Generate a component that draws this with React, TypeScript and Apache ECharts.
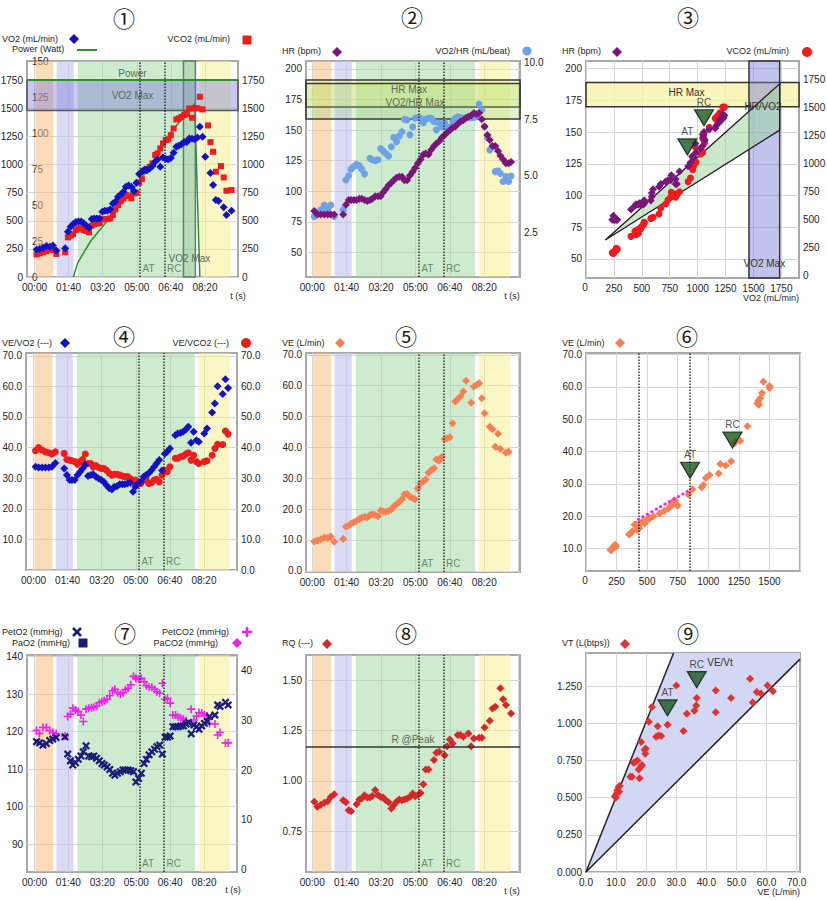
import React, { useEffect, useRef } from 'react';
import * as echarts from 'echarts';

// ---------------- data ----------------
// sample times (s), shared by all time-based panels
const T = [6,15,25,35,45,54,64,90,98,106,113,121,129,137,144,152,160,168,175,183,191,199,206,214,222,230,237,245,253,261,268,276,284,292,299,307,315,323,330,338,346,354,361,369,377,385,392,400,408,416,423,431,439,447,454,462,470,478,485,493,501,509,516,524,532,540,547,555,563,571,578];

const VO2 = [245,250,260,275,270,280,235,255,403,447,
  470,489,494,494,477,456,438,515,521,521,
  521,580,589,589,601,654,669,714,734,758,
  802,814,802,764,838,915,936,956,950,965,
  986,1027,1045,980,1063,1051,1045,1057,1104,1158,
  1167,1181,1199,1199,1232,1229,1225,1240,1335,1246,
  1069,null,925,817,684,675,null,620,551,null,
  589];

const VCO2 = [200,210,220,230,245,240,205,220,352,367,
  380,417,435,430,417,409,397,456,470,475,
  480,512,515,515,521,551,601,640,675,699,
  728,720,699,743,749,838,870,945,960,980,
  1010,1084,1098,1143,1187,1217,1223,1261,1320,1400,
  1410,1424,1439,1450,1498,1415,1500,1500,1602,1490,
  null,1347,1199,1113,936,null,986,885,767,null,
  773];

const HR = [84,81,81,81,81,81,81,81,89,93,
  93,93,93,94,94,93,92,93,94,96,
  96,96,99,102,105,107,109,111,112,112,
  109,109,113,116,119,123,126,130,131,130,
  134,137,139,141,144,146,148,150,152,153,
  155,157,158,160,161,162,164,163,164,159,
  153,146,142,137,137,133,129,126,123,123,
  124];

const VO2HR = [3.2,3.3,3.5,3.7,3.5,3.7,3.2,3.5,4.81,5.0,
  5.28,5.4,5.5,5.44,5.28,5.08,null,5.77,5.7,5.66,
  5.7,6.2,6.1,5.98,5.87,6.28,6.69,6.5,6.75,6.94,
  7.49,7.46,6.8,7.16,7.53,7.57,7.53,7.34,7.49,7.53,
  7.53,7.38,7.02,7.31,7.16,7.34,7.16,7.12,7.38,7.53,
  7.6,7.57,7.53,7.57,7.57,7.57,7.57,7.6,8.16,7.9,
  7.16,6.69,6.13,6.28,5.18,5.22,5.1,4.74,4.96,4.74,
  4.99];

const VE = [9.5,9.8,10.2,10.8,10.6,11.1,9.4,10.3,14.3,14.7,
  15.3,15.7,16.2,16.8,17.2,17.5,17.3,18.1,18.3,18.1,
  17.7,19.5,19.3,19.1,19.4,19.9,20.8,21.6,22.4,23.2,
  24.8,24.9,24.0,23.5,23.2,26.7,28.3,28.9,29.6,31.8,
  32.7,33.2,36.1,35.7,37.0,42.6,43.0,43.3,47.8,54.9,
  55.7,56.5,58.1,61.6,null,54.5,59.7,60.3,60.8,55.9,
  51.1,null,46.7,45.9,40.2,44.4,39.5,null,38.3,38.6,
  null];

const VE_VO2 = [33.7,33.5,33.5,33.5,33.5,33.7,35.0,33.2,31.0,29.4,
  29.4,29.4,31.0,32.1,33.2,34.3,30.7,31.0,31.3,30.5,
  29.9,29.4,28.8,27.7,26.7,26.3,27.2,27.4,28.0,28.0,
  28.0,28.3,28.5,25.6,27.2,28.3,28.8,30.5,31.0,31.6,
  32.6,33.7,34.8,35.9,32.5,38.0,38.6,39.7,null,44.0,
  44.6,44.8,45.2,45.9,46.8,41.6,45.2,42.4,41.9,null,
  44.6,46.2,null,51.5,54.4,60.0,null,57.5,62.3,59.5,
  null];

const VE_VCO2 = [39.0,40.0,39.2,38.6,38.3,37.9,38.6,38.1,36.1,35.9,
  35.7,35.4,34.6,35.4,36.1,37.9,34.8,34.8,33.7,34.1,
  33.5,33.2,33.2,32.6,31.6,31.0,31.3,31.3,31.0,30.7,
  30.5,30.5,29.9,28.8,29.4,28.8,28.3,29.4,29.9,28.3,
  28.5,29.4,29.6,28.8,31.0,32.6,32.1,33.7,null,36.5,
  36.5,37.0,37.2,37.9,38.3,35.9,37.5,35.4,34.8,null,
  35.4,35.7,null,37.5,39.7,41.1,null,41.0,45.4,44.4,
  null];

const PETO2 = [117.3,117.0,116.4,116.8,117.6,118.0,118.4,118.6,114.0,112.2,
  111.1,111.7,112.6,113.5,114.6,116.2,113.5,113.3,113.5,112.9,
  112.2,111.5,111.1,110.6,109.9,108.9,108.4,108.9,109.3,109.8,
  109.8,109.8,109.6,109.3,106.6,107.5,108.9,111.5,112.6,113.8,
  114.6,115.3,116.0,116.4,114.0,118.5,118.5,118.8,121.3,121.3,
  121.3,121.5,121.5,122.0,122.4,119.4,121.8,121.3,120.6,121.5,
  122.2,122.7,124.0,null,124.4,127.1,126.7,null,127.8,127.1,
  null];

const PETCO2 = [28.0,27.4,28.6,28.6,28.0,27.6,27.4,26.9,30.8,31.3,
  32.5,32.1,31.8,31.1,29.8,32.3,32.5,32.6,32.7,32.9,
  33.6,33.8,34.0,34.3,35.0,36.0,36.3,35.6,35.3,35.6,
  36.2,36.5,37.2,38.9,38.5,38.3,38.5,37.8,37.0,36.7,
  36.7,36.3,35.8,35.5,37.5,34.3,34.5,33.5,31.1,31.1,
  30.7,30.5,30.3,30.0,null,32.3,30.1,30.9,31.6,31.5,
  31.1,30.9,29.4,null,29.3,27.1,27.6,null,25.5,25.5,
  null];

const RQ = [0.896,0.871,0.882,0.891,0.899,0.920,0.934,0.904,0.894,0.854,
  0.849,null,0.884,0.907,0.912,0.929,0.917,0.917,0.925,0.954,
  0.930,0.920,0.917,0.904,0.894,0.863,0.879,0.896,0.907,0.904,
  0.907,0.912,0.920,0.937,0.924,0.930,0.940,0.983,1.056,1.056,
  null,1.103,1.139,1.144,null,1.127,1.172,1.205,1.185,null,
  1.227,1.227,1.219,null,1.235,1.172,1.210,null,1.214,1.214,
  1.265,null,1.298,1.359,1.368,null,1.459,1.404,1.376,null,
  1.334];

// last sample before recovery (used by the x-y panels 3 and 6)
const PEAK_IDX = 57;

// workload (panel 1)
const POWER_T = [114,127,165,224,273,341,395,470,485];
const POWER_W = [0,10,25,42,56,77,99,120.5,0];

// tidal volume vs ventilation (panel 9)
const VT_VE = [9.6,9.9,10.2,10.4,10.8,11.2,11.0,14.7,15.3,15.8,16.4,17.1,17.5,17.8,18.3,18.6,18.3,19.5,19.7,19.8,20.9,21.9,23.3,23.8,24.1,25.0,27.1,30.0,32.4,33.5,36.0,36.6,36.8,43.1,43.1,48.2,54.5,55.4,56.7,58.1,60.3,62.1];
const VT_L = [0.51,0.50,0.53,0.55,0.57,0.58,0.54,0.64,0.64,0.735,0.74,0.75,0.69,0.63,0.71,0.72,0.875,0.82,0.795,0.83,1.01,1.11,0.91,0.98,0.92,0.915,0.99,1.255,0.948,1.065,1.085,1.12,1.17,1.22,1.075,1.17,1.30,1.14,1.21,1.20,1.255,1.216];

// exercise phases (s): rest, unloaded, ramp, recovery
const PHASE_START = [3, 65, 127, 484];
const PHASE_END = [55, 115, 473, 576];
// thresholds
const AT_T = 309;
const RC_T = 381;
const THR_NAMES = ['AT', 'RC'];
// reference bands / lines
const VO2MAX_BAND = [1480, 1750];
const VO2MAX_TIME = [437, 472];
const POWER_MAX = 1750;
const HRMAX_BAND2 = [169, 191];
const VO2HRMAX_BAND = [7.5, 9.07];
const HRMAX_BAND3 = [170, 189];
const VO2MAX_BAND3 = [1460, 1735];
const R_PEAK = 1.169;
const WEDGE3_X = [173, 1735, 1735];
const WEDGE3_Y = [65, 188, 151.5];
const TRI3_X = [908, 1057];
const TRI3_Y = [132, 155];
const VLINES6 = [429, 851];
const FIT6_X = [429, 845];
const FIT6_Y = [19.0, 28.0];
const TRI6_X = [851, 1198];
const TRI6_Y = [31.7, 41.1];
const WEDGE9_X = [0, 29.1, 71.1, 71.1];
const WEDGE9_Y = [0, 1.473, 1.473, 1.432];
const TRI9_X = [27.1, 36.8];
const TRI9_Y = [1.05, 1.24];

// tick labels
const TIME_GRID = [0, 100, 200, 300, 400, 500, 600];
const TIME_TICKS = [0, 100, 200, 300, 400, 500];
const VO2_TICKS = [0, 250, 500, 750, 1000, 1250, 1500, 1750];
const VCO2_TICKS6 = [0, 250, 500, 750, 1000, 1250, 1500];
const POWER_TICKS = [0, 25, 50, 75, 100, 125, 150];
const HR_TICKS = [50, 75, 100, 125, 150, 175, 200];
const VO2HR_TICKS = [2.5, 5, 7.5, 10];
const SEVENTY_TICKS = [0, 10, 20, 30, 40, 50, 60, 70];
const SEVENTY_NO0 = [10, 20, 30, 40, 50, 60, 70];
const PETO2_TICKS = [90, 100, 110, 120, 130, 140];
const PETCO2_TICKS = [0, 10, 20, 30, 40];
const RQ_TICKS = [0.75, 1, 1.25, 1.5];
const VT_TICKS = [0, 0.25, 0.5, 0.75, 1, 1.25];

// ---------------- styling ----------------
const FONT = "'Liberation Sans', Arial, sans-serif";
const TXT = '#262626';
const BLUE = '#1212c4';
const RED = '#ee1c1c';
const PURPLE = '#7a167a';
const LIGHTBLUE = '#6ea2e6';
const ORANGE = '#f97f52';
const RQRED = '#d62828';
const NAVY = '#1c1c7a';
const MAGENTA = '#ee22ee';
const VTRED = '#e03232';
const PGREEN = '#2f8f2f';
const PHASE_COLOR = ['rgba(245,190,130,0.55)', 'rgba(190,195,235,0.6)', 'rgba(160,215,160,0.5)', 'rgba(245,240,140,0.5)'];

const GRID_RECTS = [
  [27, 61, 211, 216], [306, 61, 214, 216], [586, 61, 213, 217],
  [26, 353, 211, 217], [306, 353, 214, 219], [586, 353, 214, 218],
  [27, 655, 210, 217], [306, 655, 214, 217], [586, 653, 214, 219],
];

const fmtT = (v: number) => {
  const m = Math.floor(v / 60), s = Math.round(v % 60);
  return String(m).padStart(2, '0') + ':' + String(s).padStart(2, '0');
};
const fInt = (v: number) => String(Math.round(v));
const f1 = (v: number) => v.toFixed(1);
const f2 = (v: number) => v.toFixed(2);
const f3 = (v: number) => v.toFixed(3);

const LBL = { fontSize: 10, color: TXT, fontFamily: FONT };
const IN_LBL = { fontSize: 10, color: '#5a6a5a', fontFamily: FONT };

function ax(gi: number, min: number, max: number, grid: number[], labels: number[], fmt: any, o: any = {}) {
  const a: any = {
    type: 'value', gridIndex: gi, min, max,
    axisLine: { show: false, onZero: false },
    axisTick: { show: false, customValues: grid },
    axisLabel: { ...LBL, margin: o.margin ?? 4, inside: !!o.inside, customValues: labels, formatter: fmt, showMinLabel: true, showMaxLabel: true, hideOverlap: false },
    splitLine: o.split === false ? { show: false } : { show: true, lineStyle: { color: '#d6d6d6', width: 1 } },
  };
  if (o.position) a.position = o.position;
  return a;
}
const tx = (gi: number, min: number, max: number) => ax(gi, min, max, TIME_GRID, TIME_TICKS, fmtT, { margin: 5 });

const tv = (arr: (number | null)[]) => {
  const out: number[][] = [];
  T.forEach((t, i) => { if (arr[i] != null) out.push([t, arr[i] as number]); });
  return out;
};
const xy = (xs: (number | null)[], ys: (number | null)[], last: number) => {
  const out: number[][] = [];
  for (let i = 0; i <= last; i++) if (xs[i] != null && ys[i] != null) out.push([xs[i] as number, ys[i] as number]);
  return out;
};
const zip = (xs: number[], ys: number[]) => xs.map((x, i) => [x, ys[i]]);

const phaseAreas = () => PHASE_START.map((s, i) => [{ xAxis: s, itemStyle: { color: PHASE_COLOR[i] } }, { xAxis: PHASE_END[i] }]);
const DOT = { type: 'dotted', color: '#2e2e2e', width: 1.5 };
const thrLines = () => [{ xAxis: AT_T }, { xAxis: RC_T }];

function bg(xi: number, yi: number, areas: any[], lines: any[], labelY: number | null) {
  return {
    type: 'scatter', xAxisIndex: xi, yAxisIndex: yi, silent: true, z: 1, clip: false,
    symbolSize: 0.5, itemStyle: { color: 'rgba(0,0,0,0)' },
    data: labelY == null ? [] : [[AT_T, labelY], [RC_T, labelY]],
    label: { show: labelY != null, position: [3, -13], formatter: (p: any) => THR_NAMES[p.dataIndex], fontSize: 10, color: '#4b6e4b', fontFamily: FONT },
    markArea: { silent: true, label: { show: false }, data: areas },
    markLine: { silent: true, symbol: ['none', 'none'], label: { show: false }, lineStyle: DOT, data: lines },
  };
}
const sc = (xi: number, yi: number, data: any[], symbol: string, size: number, color: string, z = 3) => ({
  type: 'scatter', xAxisIndex: xi, yAxisIndex: yi, data, symbol, symbolSize: size, itemStyle: { color, opacity: 1 }, silent: true, z,
});
const tri = (xi: number, yi: number, xs: number[], ys: number[]) => ({
  type: 'scatter', xAxisIndex: xi, yAxisIndex: yi, silent: true, z: 6, data: zip(xs, ys),
  symbol: 'triangle', symbolRotate: 180, symbolSize: [19, 16], symbolOffset: [0, -8],
  itemStyle: { color: '#17591b', borderColor: '#101010', borderWidth: 1.2 },
  label: { show: true, position: 'top', distance: 2, formatter: (p: any) => THR_NAMES[p.dataIndex], fontSize: 10, color: '#222', fontFamily: FONT },
});

const X_SYMBOL = 'path://M0,2 L2,0 L5,3 L8,0 L10,2 L7,5 L10,8 L8,10 L5,7 L2,10 L0,8 L3,5 Z';
const PLUS_SYMBOL = 'path://M4,0 L6,0 L6,4 L10,4 L10,6 L6,6 L6,10 L4,10 L4,6 L0,6 L0,4 L4,4 Z';

function buildGraphics() {
  const G: any[] = [];
  const t = (x: number, y: number, text: string, align = 'left', size = 9, fill = TXT, font = FONT) =>
    G.push({ type: 'text', x, y, z: 100, silent: true, style: { text, fill, fontSize: size, fontFamily: font, align, verticalAlign: 'middle', textAlign: align, textVerticalAlign: 'middle' } });
  const diamond = (x: number, y: number, r: number, fill: string) => G.push({ type: 'polygon', z: 100, silent: true, shape: { points: [[x, y - r], [x + r, y], [x, y + r], [x - r, y]] }, style: { fill } });
  const square = (x: number, y: number, r: number, fill: string) => G.push({ type: 'rect', z: 100, silent: true, shape: { x: x - r, y: y - r, width: 2 * r, height: 2 * r }, style: { fill } });
  const dot = (x: number, y: number, r: number, fill: string) => G.push({ type: 'circle', z: 100, silent: true, shape: { cx: x, cy: y, r }, style: { fill } });
  const seg = (x1: number, y1: number, x2: number, y2: number, stroke: string, w: number) => G.push({ type: 'line', z: 100, silent: true, shape: { x1, y1, x2, y2 }, style: { stroke, lineWidth: w } });

  const CIRC = ['①', '②', '③', '④', '⑤', '⑥', '⑦', '⑧', '⑨'];
  const CPOS = [[124, 17], [412, 16], [688, 16], [124, 335], [406, 335], [687, 335], [125, 632], [406, 632], [688, 632]];
  CIRC.forEach((c, i) => t(CPOS[i][0], CPOS[i][1], c, 'center', 22, '#1a1a1a', "'Noto Sans CJK JP', sans-serif"));

  // panel 1
  t(2, 39, 'VO2 (mL/min)'); diamond(74, 39, 5, BLUE);
  t(12, 49, 'Power (Watt)'); seg(77, 50, 97, 50, PGREEN, 2);
  t(230, 39, 'VCO2 (mL/min)', 'right'); square(247, 40, 4.5, RED);
  // panel 2
  t(282, 51, 'HR (bpm)'); diamond(337, 52, 5, PURPLE);
  t(510, 51, 'VO2/HR (mL/beat)', 'right'); dot(527, 51, 4.5, LIGHTBLUE);
  // panel 3
  t(562, 51, 'HR (bpm)'); diamond(617, 52, 5, PURPLE);
  t(789, 51, 'VCO2 (mL/min)', 'right'); dot(807, 52, 5, RED);
  // panel 4
  t(2, 343, 'VE/VO2 (---)'); diamond(65, 343, 5, BLUE);
  t(229, 343, 'VE/VCO2 (---)', 'right'); dot(246, 343, 5, RED);
  // panel 5, 6
  t(282, 343, 'VE (L/min)'); diamond(340, 343, 5, ORANGE);
  t(562, 343, 'VE (L/min)'); diamond(620, 343, 5, ORANGE);
  // panel 7
  t(2, 632, 'PetO2 (mmHg)'); seg(73, 628, 81, 636, NAVY, 2.5); seg(81, 628, 73, 636, NAVY, 2.5);
  t(12, 643, 'PaO2 (mmHg)'); square(83, 643, 4.5, NAVY);
  t(229, 632, 'PetCO2 (mmHg)', 'right'); seg(242, 632, 252, 632, MAGENTA, 2.5); seg(247, 627, 247, 637, MAGENTA, 2.5);
  t(218, 643, 'PaCO2 (mmHg)', 'right'); diamond(237, 643, 5, MAGENTA);
  // panel 8, 9
  t(282, 643, 'RQ (---)'); diamond(327, 644, 5, RQRED);
  t(562, 643, 'VT (L(btps))'); diamond(625, 644, 5, VTRED);
  // axis titles
  t(238, 296, 't (s)', 'center'); t(512, 296, 't (s)', 'center');
  t(233, 890, 't (s)', 'center'); t(512, 891, 't (s)', 'center');
  t(799, 298, 'VO2 (mL/min)', 'right'); t(800, 892, 'VE (L/min)', 'right');
  // origin labels of the VO2 / VCO2 x axes of panels 3 and 6 (the library hides them at the grid corner)
  t(585, 287, '0', 'center', 10, '#1e1e1e'); t(585, 580, '0', 'center', 10, '#1e1e1e');
  // inner labels
  t(763, 106, 'HR/VO2', 'center', 10, '#333');
  t(720, 662, 'VE/Vt', 'center', 10, '#333');
  return G;
}

function buildOption() {
  const grid = GRID_RECTS.map(([left, top, width, height]) => ({
    left, top, width, height, show: true, borderColor: '#a9a9a9', borderWidth: 2, backgroundColor: '#ffffff', containLabel: false, outerBoundsMode: 'none',
  }));

  const xAxis = [
    tx(0, -22, 597),
    tx(1, -18, 604),
    ax(2, 0, 1908, VO2_TICKS, VO2_TICKS.slice(1), fInt, { margin: 5 }),
    tx(3, -22, 597),
    tx(4, -18, 604),
    ax(5, 0, 1750, VO2_TICKS, VCO2_TICKS6.slice(1), fInt, { margin: 5 }),
    tx(6, -22, 597),
    tx(7, -18, 604),
    ax(8, 0, 71.1, SEVENTY_TICKS, SEVENTY_TICKS, f1, { margin: 5 }),
  ];

  const yAxis = [
    ax(0, 0, 1920, VO2_TICKS, VO2_TICKS, fInt),                                           // 0 VO2
    ax(0, 0, 1920, VO2_TICKS, VO2_TICKS, fInt, { position: 'right', split: false }),      // 1 VCO2
    ax(0, 0, 150, POWER_TICKS, POWER_TICKS, fInt, { position: 'left', split: false, inside: true, margin: 5 }), // 2 power
    ax(1, 30, 206.5, HR_TICKS, HR_TICKS, fInt),                                           // 3 HR
    ax(1, 0.53, 10.06, VO2HR_TICKS, VO2HR_TICKS, f1, { position: 'right', split: false }), // 4 VO2/HR
    ax(2, 35, 206, HR_TICKS, HR_TICKS, fInt),                                             // 5 HR (p3)
    ax(2, -18, 1910, VO2_TICKS, VO2_TICKS, fInt, { position: 'right', split: false }),    // 6 VCO2 (p3)
    ax(3, 0, 70.9, SEVENTY_TICKS, SEVENTY_NO0, f1),                                       // 7 VE/VO2
    ax(3, 0, 70.9, SEVENTY_TICKS, SEVENTY_TICKS, f1, { position: 'right', split: false }), // 8 VE/VCO2
    ax(4, -0.4, 70.6, SEVENTY_TICKS, SEVENTY_TICKS, f1),                                  // 9 VE
    ax(5, 3, 70.5, SEVENTY_NO0, SEVENTY_NO0, f1),                                         // 10 VE (p6)
    ax(6, 82.6, 140.4, PETO2_TICKS, PETO2_TICKS, fInt),                                   // 11 PetO2
    ax(6, -0.5, 43.2, PETCO2_TICKS, PETCO2_TICKS, fInt, { position: 'right', split: false }), // 12 PetCO2
    ax(7, 0.548, 1.624, RQ_TICKS, RQ_TICKS, f2),                                          // 13 RQ
    ax(8, 0, 1.473, VT_TICKS, VT_TICKS, f3),                                              // 14 VT
  ];

  const series: any[] = [];

  // ---- panel 1
  series.push(bg(0, 0, [
    ...phaseAreas(),
    [{ xAxis: VO2MAX_TIME[0], name: 'VO2 Max', itemStyle: { color: 'rgba(60,130,60,0.14)', borderColor: '#5a845a', borderWidth: 1.5 }, label: { show: true, position: 'insideBottom', distance: 14, ...IN_LBL } }, { xAxis: VO2MAX_TIME[1] }],
    [{ yAxis: VO2MAX_BAND[0], name: 'VO2 Max', itemStyle: { color: 'rgba(110,110,215,0.38)', borderColor: '#555', borderWidth: 1.5 }, label: { show: true, position: 'inside', ...IN_LBL } }, { yAxis: VO2MAX_BAND[1] }],
  ], [
    ...thrLines(),
    { yAxis: POWER_MAX, lineStyle: { type: 'solid', color: PGREEN, width: 2 }, label: { show: true, position: 'insideMiddleTop', formatter: 'Power', distance: 2, ...IN_LBL } },
  ], 0));
  series.push({ type: 'line', xAxisIndex: 0, yAxisIndex: 2, data: zip(POWER_T, POWER_W), symbol: 'none', silent: true, z: 3, lineStyle: { color: PGREEN, width: 1.5 } });
  series.push(sc(0, 1, tv(VCO2), 'rect', 6, RED));
  series.push(sc(0, 0, tv(VO2), 'diamond', 8, BLUE, 4));

  // ---- panel 2
  series.push(bg(1, 3, [
    ...phaseAreas(),
    [{ yAxis: HRMAX_BAND2[0], name: 'HR Max', itemStyle: { color: 'rgba(240,240,110,0.36)', borderColor: '#3a3a3a', borderWidth: 1.5 }, label: { show: true, position: 'inside', offset: [-4, -4], ...IN_LBL } }, { yAxis: HRMAX_BAND2[1] }],
  ], thrLines(), 30));
  series.push(bg(1, 4, [
    [{ yAxis: VO2HRMAX_BAND[0], name: 'VO2/HR Max', itemStyle: { color: 'rgba(150,210,120,0.28)', borderColor: '#3a3a3a', borderWidth: 1.5 }, label: { show: true, position: 'inside', offset: [2, 1], ...IN_LBL } }, { yAxis: VO2HRMAX_BAND[1] }],
  ], [], null));
  series.push(sc(1, 4, tv(VO2HR), 'circle', 7, LIGHTBLUE));
  series.push(sc(1, 3, tv(HR), 'diamond', 8, PURPLE, 4));

  // ---- panel 3
  series.push(bg(2, 5, [
    [{ yAxis: HRMAX_BAND3[0], name: 'HR Max', itemStyle: { color: 'rgba(246,242,170,0.8)', borderColor: '#333', borderWidth: 1.5 }, label: { show: true, position: 'inside', offset: [-6, -2], ...IN_LBL, color: '#333' } }, { yAxis: HRMAX_BAND3[1] }],
    [{ xAxis: VO2MAX_BAND3[0], name: 'VO2 Max', itemStyle: { color: 'rgba(120,120,220,0.45)', borderColor: '#333', borderWidth: 1.5 }, label: { show: true, position: 'insideBottom', distance: 10, ...IN_LBL, color: '#333' } }, { xAxis: VO2MAX_BAND3[1] }],
  ], [], null));
  series.push({
    type: 'custom', xAxisIndex: 2, yAxisIndex: 5, silent: true, z: 2, data: [[WEDGE3_X[0], WEDGE3_Y[0]]],
    renderItem: (_p: any, api: any) => ({
      type: 'polygon',
      shape: { points: WEDGE3_X.map((x, i) => api.coord([x, WEDGE3_Y[i]])) },
      style: { fill: 'rgba(160,214,160,0.55)', stroke: '#1c1c1c', lineWidth: 1.3 },
    }),
  });
  series.push(sc(2, 6, xy(VO2, VCO2, PEAK_IDX), 'circle', 7, RED));
  series.push(sc(2, 5, xy(VO2, HR, PEAK_IDX), 'diamond', 8, PURPLE, 4));
  series.push(tri(2, 5, TRI3_X, TRI3_Y));

  // ---- panel 4
  series.push(bg(3, 7, phaseAreas(), thrLines(), 0));
  series.push(sc(3, 8, tv(VE_VCO2), 'circle', 7, RED));
  series.push(sc(3, 7, tv(VE_VO2), 'diamond', 8, BLUE, 4));

  // ---- panel 5
  series.push(bg(4, 9, phaseAreas(), thrLines(), -0.4));
  series.push(sc(4, 9, tv(VE), 'diamond', 8, ORANGE));

  // ---- panel 6
  series.push(bg(5, 10, [], VLINES6.map((v) => ({ xAxis: v })), null));
  series.push(sc(5, 10, xy(VCO2, VE, PEAK_IDX), 'diamond', 8, ORANGE));
  series.push({ type: 'line', xAxisIndex: 5, yAxisIndex: 10, data: zip(FIT6_X, FIT6_Y), symbol: 'none', silent: true, z: 5, lineStyle: { color: '#ff1aff', width: 3, type: [0.1, 5], cap: 'round' } });
  series.push(tri(5, 10, TRI6_X, TRI6_Y));

  // ---- panel 7
  series.push(bg(6, 11, phaseAreas(), thrLines(), 82.6));
  series.push(sc(6, 12, tv(PETCO2), PLUS_SYMBOL, 8, MAGENTA));
  series.push(sc(6, 11, tv(PETO2), X_SYMBOL, 8, NAVY, 4));

  // ---- panel 8
  series.push(bg(7, 13, phaseAreas(), [
    ...thrLines(),
    { yAxis: R_PEAK, lineStyle: { type: 'solid', color: '#333', width: 1.5 }, label: { show: true, position: 'insideMiddleTop', formatter: 'R @Peak', distance: 2, ...IN_LBL } },
  ], 0.548));
  series.push(sc(7, 13, tv(RQ), 'diamond', 8, RQRED));

  // ---- panel 9
  series.push({
    type: 'custom', xAxisIndex: 8, yAxisIndex: 14, silent: true, z: 2, data: [[WEDGE9_X[0], WEDGE9_Y[0]]],
    renderItem: (_p: any, api: any) => {
      const pts = WEDGE9_X.map((x, i) => api.coord([x, WEDGE9_Y[i]]));
      return {
        type: 'group',
        children: [
          { type: 'polygon', shape: { points: pts }, style: { fill: '#d2d8f3' } },
          { type: 'line', shape: { x1: pts[0][0], y1: pts[0][1], x2: pts[1][0], y2: pts[1][1] }, style: { stroke: '#222', lineWidth: 1.5 } },
          { type: 'line', shape: { x1: pts[0][0], y1: pts[0][1], x2: pts[3][0], y2: pts[3][1] }, style: { stroke: '#222', lineWidth: 1.5 } },
        ],
      };
    },
  });
  series.push(sc(8, 14, zip(VT_VE, VT_L), 'diamond', 8, VTRED));
  series.push(tri(8, 14, TRI9_X, TRI9_Y));

  return {
    animation: false,
    backgroundColor: '#ffffff',
    textStyle: { fontFamily: FONT },
    grid, xAxis, yAxis, series,
    graphic: { elements: buildGraphics() },
  };
}

export default function App() {
  const ref = useRef<HTMLDivElement>(null);
  useEffect(() => {
    if (!ref.current) return;
    const chart = echarts.init(ref.current, undefined, { renderer: 'svg' });
    chart.setOption(buildOption() as any);
    return () => chart.dispose();
  }, []);
  return <div ref={ref} style={{ position: 'absolute', left: 0, top: 0, width: 827, height: 900, background: '#fff' }} />;
}
